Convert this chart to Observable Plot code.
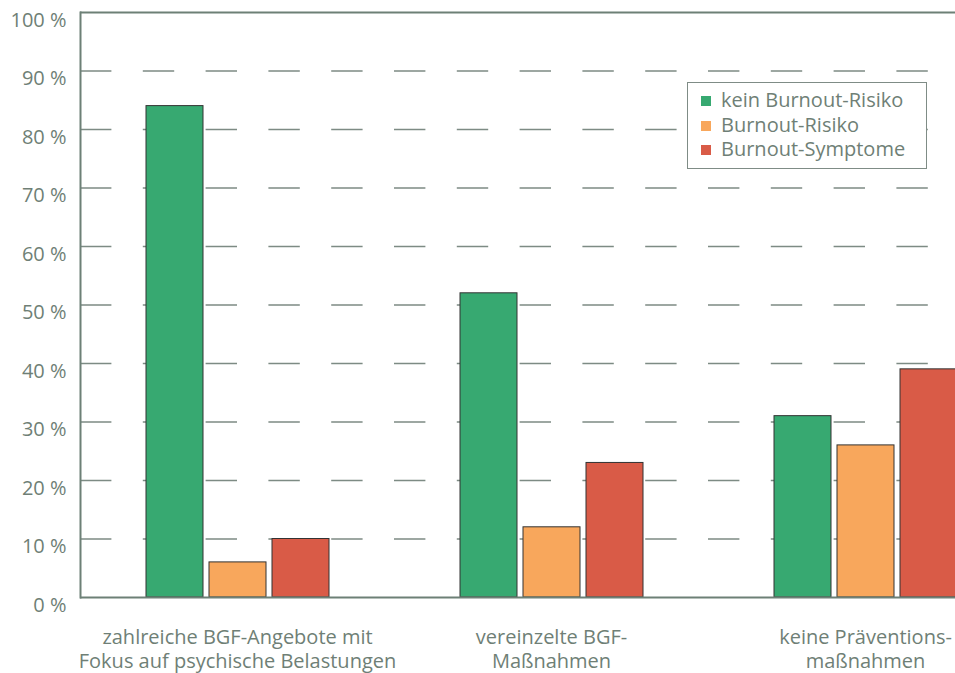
<!DOCTYPE html>
<html>
<head>
<meta charset="utf-8">
<script src="https://cdn.jsdelivr.net/npm/d3@7"></script>
<script src="https://cdn.jsdelivr.net/npm/@observablehq/plot@0.6"></script>
<style>
  html, body { margin: 0; padding: 0; background: white; overflow: hidden; }
  #wrap { position: relative; width: 955px; height: 673px; overflow: hidden; }
  #legend { position: absolute; left: 687px; top: 82px; width: 238px; height: 85px;
    border: 1.5px solid #7f8c86; background: white; font-family: "Open Sans", sans-serif;
    font-size: 20px; font-weight: 400; color: #6f7f76; box-sizing: content-box; }
  .item { position: absolute; left: 13px; height: 24px; line-height: 24px; white-space: nowrap; }
  .sw { position: absolute; left: 0; top: 7px; width: 10px; height: 10px; }
  .lab { position: absolute; left: 20px; top: -1px; }
</style>
</head>
<body>
<div id="wrap"><div id="legend"></div></div>
<script>
const groups = [
  "zahlreiche BGF-Angebote mit\nFokus auf psychische Belastungen",
  "vereinzelte BGF-\nMaßnahmen",
  "keine Präventions-\nmaßnahmen"
];
const series = ["kein Burnout-Risiko", "Burnout-Risiko", "Burnout-Symptome"];
const keinRisiko = [84, 52, 31];
const risiko = [6, 12, 26];
const symptome = [10, 23, 39];
const colors = ["#37a971", "#f8a75c", "#d95b47"];
const yTicks = [0, 10, 20, 30, 40, 50, 60, 70, 80, 90, 100];

const seriesValues = [keinRisiko, risiko, symptome];
const data = [];
groups.forEach((g, gi) => series.forEach((s, si) => data.push({group: g, series: s, value: seriesValues[si][gi]})));
const labels = groups.map(g => ({group: g}));

const textColor = "#6f7f76";
const lineColor = "#6d8076";

const chart = Plot.plot({
  width: 955,
  height: 673,
  marginLeft: 80,
  marginRight: -67,
  marginTop: 12,
  marginBottom: 76,
  style: {fontFamily: "Open Sans, sans-serif", fontSize: "20px", fontWeight: 400, color: textColor, background: "white", overflow: "hidden"},
  fx: {domain: groups, padding: 0, axis: null},
  x: {domain: series, paddingInner: 0.1, paddingOuter: 1.04, axis: null},
  y: {domain: [0, 100], axis: null},
  color: {domain: series, range: colors},
  marks: [
    Plot.ruleY(yTicks.filter(d => d > 0 && d < 100), {stroke: "#7d8b84", strokeWidth: 1.5, strokeDasharray: "31.4,31.4"}),
    Plot.barY(data, {fx: "group", x: "series", y: "value", fill: "series", stroke: "#333", strokeWidth: 1}),
    Plot.ruleY([0, 100], {stroke: lineColor, strokeWidth: 2}),
    Plot.frame({anchor: "left", facetAnchor: "left", stroke: lineColor, strokeWidth: 2}),
    Plot.axisY(yTicks, {anchor: "left", tickSize: 0, tickPadding: 14, dy: 8, tickFormat: d => d + " %", fontSize: 20, fill: textColor, label: null}),
    Plot.text(labels, {fx: "group", text: "group", frameAnchor: "bottom", lineAnchor: "top", dy: 29, lineHeight: 1.22, fontSize: 20, fill: textColor})
  ]
});
const wrap = document.getElementById("wrap");
wrap.insertBefore(chart, wrap.firstChild);

const legend = document.getElementById("legend");
series.forEach((s, i) => {
  const it = document.createElement("div");
  it.className = "item";
  it.style.top = (6 + i * 24.5) + "px";
  const sw = document.createElement("div");
  sw.className = "sw";
  sw.style.background = colors[i];
  const lab = document.createElement("span");
  lab.className = "lab";
  lab.textContent = s;
  it.appendChild(sw); it.appendChild(lab);
  legend.appendChild(it);
});
</script>
</body>
</html>
